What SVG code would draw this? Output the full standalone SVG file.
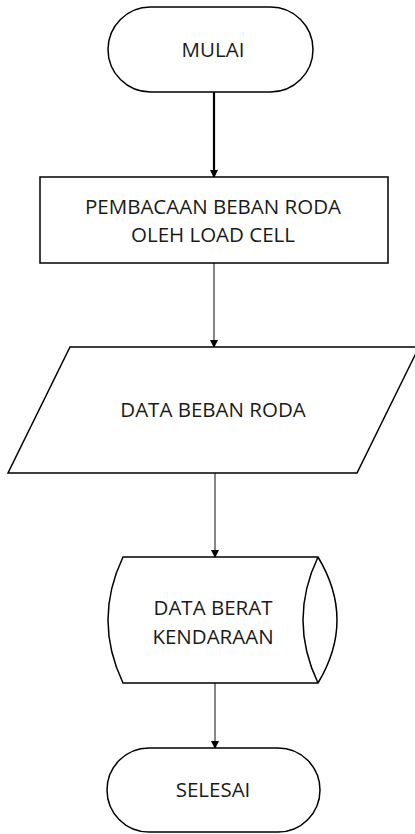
<svg xmlns="http://www.w3.org/2000/svg" width="415" height="834" viewBox="0 0 415 834">
  <defs>
    <marker id="arrow" markerWidth="8" markerHeight="8" refX="7" refY="4" orient="auto" markerUnits="userSpaceOnUse">
      <path d="M0,0 L8,4 L0,8 Z" fill="#000"/>
    </marker>
    <style>
      .shape { fill: #fff; stroke: #000; stroke-width: 1.5; }
      .label { font-family: "Open Sans", "Liberation Sans", sans-serif; font-size: 20.5px; fill: #1a1a1a; text-anchor: middle; }
      .edge { stroke: #444; stroke-width: 1.3; fill: none; marker-end: url(#arrow); }
    </style>
  </defs>
  <rect width="415" height="834" fill="#fff"/>

  <g id="connectors">
    <line class="edge" x1="214" y1="92" x2="214" y2="177" style="stroke:#000;stroke-width:2.2"/>
    <line class="edge" x1="214" y1="263" x2="214" y2="347"/>
    <line class="edge" x1="215" y1="473" x2="215" y2="557"/>
    <line class="edge" x1="215" y1="683" x2="215" y2="748"/>
  </g>

  <g id="start">
    <rect class="shape" x="108" y="7" width="205" height="85" rx="42.5"/>
    <text class="label" x="213" y="57">MULAI</text>
  </g>

  <g id="read-load">
    <rect class="shape" x="40" y="177" width="348" height="86"/>
    <text class="label" x="213" y="214">PEMBACAAN BEBAN RODA</text>
    <text class="label" x="213" y="242">OLEH LOAD CELL</text>
  </g>

  <g id="wheel-data">
    <polygon class="shape" points="70,347 419,347 357,473 8,473"/>
    <text class="label" x="213" y="417">DATA BEBAN RODA</text>
  </g>

  <g id="vehicle-weight">
    <path class="shape" d="M123,557 L318,557 Q356,620 318,683 L123,683 Q93,620 123,557 Z"/>
    <path class="shape" d="M318,557 Q288,620 318,683" style="fill:none"/>
    <text class="label" x="213" y="615">DATA BERAT</text>
    <text class="label" x="213" y="644">KENDARAAN</text>
  </g>

  <g id="end">
    <rect class="shape" x="107" y="748" width="213" height="84" rx="42"/>
    <text class="label" x="213" y="797">SELESAI</text>
  </g>
</svg>
